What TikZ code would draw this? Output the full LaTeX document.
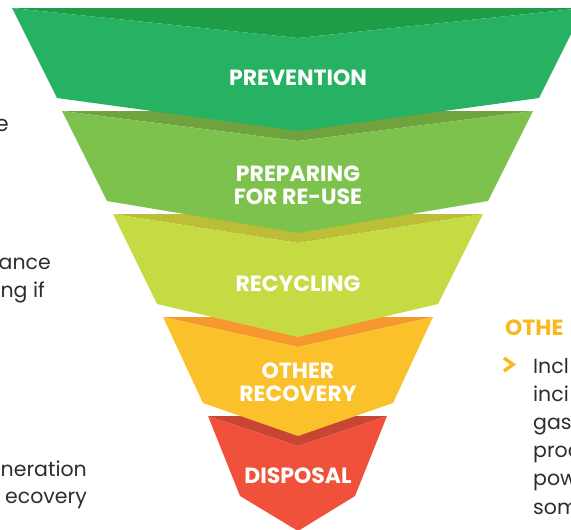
\documentclass[tikz,border=0pt]{standalone}
\usepackage{fontspec}
\usepackage{xcolor}
\setmainfont{Poppins}
\newfontfamily\bodyfont{Poppins}
\usetikzlibrary{positioning}
\definecolor{prevGreen}{RGB}{38,178,98}
\definecolor{prevDark}{RGB}{30,157,70}
\definecolor{prepGreen}{RGB}{125,194,77}
\definecolor{prepDark}{RGB}{112,162,62}
\definecolor{recyLime}{RGB}{198,218,68}
\definecolor{recyDark}{RGB}{188,190,55}
\definecolor{othrYellow}{RGB}{251,193,43}
\definecolor{othrOrange}{RGB}{247,152,47}
\definecolor{dispRed}{RGB}{239,81,58}
\definecolor{dispDark}{RGB}{199,69,50}
\definecolor{headOrange}{RGB}{249,185,30}
\definecolor{bodyGray}{RGB}{45,45,45}

\begin{document}
\begin{tikzpicture}[
        x=1pt, y=-1pt,
        band/.style={align=center, text=white, inner sep=0pt, font=\fontsize{22}{26}\selectfont\bfseries},
        body/.style={inner sep=0pt, text=bodyGray, font=\bodyfont\fontsize{20.5}{24}\selectfont},
        head/.style={inner sep=0pt, text=headOrange, font=\fontsize{22}{26}\selectfont\bfseries}
    ]
        \useasboundingbox (0,0) rectangle (571,530);
        \clip (0,0) rectangle (571,530);

        % Disposal
        \fill[dispDark] (208,416) -- (387,416) -- (298,446) -- cycle;
        \fill[dispRed] (208,416) -- (298,446) -- (387,416) -- (355,496) -- (298,531) -- (240,496) -- cycle;
        % Other recovery
        \fill[othrOrange] (163,317) -- (433,317) -- (298,347) -- cycle;
        \fill[othrYellow] (163,317) -- (298,347) -- (433,317) -- (393,403) -- (298,436) -- (203,403) -- cycle;
        % Recycling
        \fill[recyDark] (113,214) -- (483,214) -- (298,243) -- cycle;
        \fill[recyLime] (113,214) -- (298,243) -- (483,214) -- (438,304) -- (298,337) -- (157,304) -- cycle;
        % Preparing for re-use
        \fill[prepDark] (62,111) -- (533,111) -- (298,141) -- cycle;
        \fill[prepGreen] (62,111) -- (298,141) -- (533,111) -- (488,201) -- (298,233) -- (107,201) -- cycle;
        % Prevention
        \fill[prevDark] (12,8) -- (584,8) -- (298,38) -- cycle;
        \fill[prevGreen] (12,8) -- (298,38) -- (584,8) -- (539,98) -- (298,131) -- (57,98) -- cycle;

        % Level labels
        \node[band] (prev) at (298,78) {PREVENTION};
        \node[band] (prep) at (298,185) {PREPARING\\[-3pt]FOR RE-USE};
        \node[band] (recy) at (298,284) {RECYCLING};
        \node[band] (othr) at (298,382) {OTHER\\[-3pt]RECOVERY};
        \node[band] (disp) at (298,476) {DISPOSAL};

        % Left column (cut off)
        \node[body, anchor=base east, font=\fontsize{22}{26}\selectfont] (lftA) at (9,131) {e};
        \node[body, anchor=base east] (lftB) at (51,269) {ance};
        \node[body, anchor=base east] (lftC) at (45,297) {ng if};
        \node[body, anchor=base east] (lftD) at (87,476) {neration};
        \node[body, anchor=base east] (lftE) at (87,503) {ecovery};

        % Right column (cut off)
        \node[head, anchor=base west] (rgtHead) at (505,335) {OTHE};
        \draw[headOrange, line width=3.5pt] (504,358) -- (513,364.5) -- (504,371);
        \node[body, anchor=base west] (rgtA) at (533,373) {Incl};
        \node[body, anchor=base west] (rgtB) at (533,401) {inci};
        \node[body, anchor=base west] (rgtC) at (533,429) {gas};
        \node[body, anchor=base west] (rgtD) at (533,457) {proc};
        \node[body, anchor=base west] (rgtE) at (533,485) {pow};
        \node[body, anchor=base west] (rgtF) at (533,514) {som};
    \end{tikzpicture}
\end{document}
